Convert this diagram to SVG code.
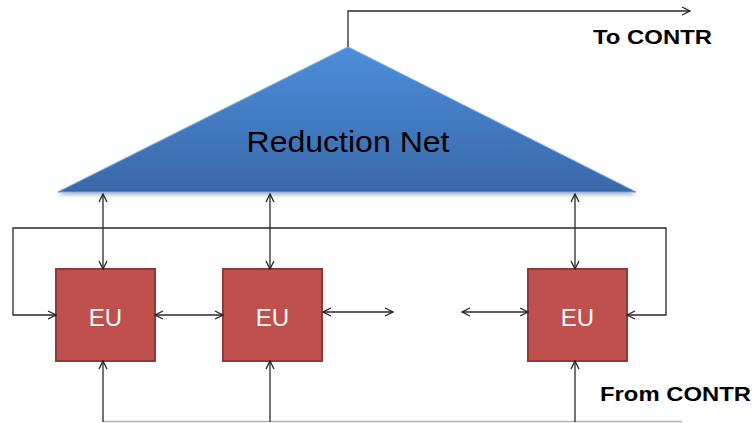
<svg xmlns="http://www.w3.org/2000/svg" width="756" height="423" viewBox="0 0 756 423">
  <defs>
    <linearGradient id="netFill" x1="0" y1="0" x2="0" y2="1">
      <stop offset="0" stop-color="#4b8edb"/>
      <stop offset="1" stop-color="#3a68a8"/>
    </linearGradient>
    <filter id="shadow" x="-10%" y="-10%" width="120%" height="130%">
      <feGaussianBlur in="SourceAlpha" stdDeviation="2"/>
      <feOffset dx="0" dy="2" result="b"/>
      <feComponentTransfer><feFuncA type="linear" slope="0.35"/></feComponentTransfer>
      <feMerge><feMergeNode/><feMergeNode in="SourceGraphic"/></feMerge>
    </filter>
    <marker id="arrow" viewBox="0 0 10 10" refX="9" refY="5" markerWidth="10" markerHeight="10" markerUnits="userSpaceOnUse" orient="auto-start-reverse">
      <path d="M1,1 L9,5 L1,9" fill="none" stroke="#222" stroke-width="1.3"/>
    </marker>
  </defs>
  <style>
    .wire { fill: none; stroke: #2a2a2a; stroke-width: 1.3; }
    .base { fill: none; stroke: #b4b4b4; stroke-width: 1.3; }
    .eu rect { fill: #c0504d; stroke: #8e3a38; stroke-width: 2; }
    .eu text { font-family: "Liberation Sans", Arial, sans-serif; font-size: 24px; fill: #ffffff; text-anchor: middle; }
    .label { font-family: "Liberation Sans", Arial, sans-serif; font-size: 20px; font-weight: bold; fill: #000; }
  </style>
  <rect width="756" height="423" fill="#ffffff"/>

  <!-- reduction network -->
  <g id="reduction-net">
    <polygon points="348,47 636,192 58,192" fill="url(#netFill)" stroke="#6aa3e6" stroke-width="1" stroke-linejoin="round" filter="url(#shadow)"/>
    <text x="348" y="152" text-anchor="middle" font-family="Liberation Sans, Arial, sans-serif" font-size="29" fill="#000" textLength="203" lengthAdjust="spacingAndGlyphs">Reduction Net</text>
  </g>

  <!-- execution units -->
  <g id="eu1" class="eu">
    <rect x="56" y="269" width="99" height="92"/>
    <text x="105.5" y="326">EU</text>
  </g>
  <g id="eu2" class="eu">
    <rect x="223" y="269" width="99" height="92"/>
    <text x="272.5" y="326">EU</text>
  </g>
  <g id="eu3" class="eu">
    <rect x="528" y="269" width="99" height="92"/>
    <text x="577.5" y="326">EU</text>
  </g>

  <!-- connectors -->
  <g id="connectors">
    <!-- output to controller -->
    <path class="wire" d="M348,47 L348,11 L690,11" marker-end="url(#arrow)"/>
    <!-- feedback ring -->
    <path class="wire" d="M56,315 L13,315 L13,228 L666,228 L666,315 L627,315" marker-start="url(#arrow)" marker-end="url(#arrow)"/>
    <!-- net to units -->
    <line class="wire" x1="103" y1="194" x2="103" y2="269" marker-start="url(#arrow)" marker-end="url(#arrow)"/>
    <line class="wire" x1="270" y1="194" x2="270" y2="269" marker-start="url(#arrow)" marker-end="url(#arrow)"/>
    <line class="wire" x1="575" y1="194" x2="575" y2="269" marker-start="url(#arrow)" marker-end="url(#arrow)"/>
    <!-- neighbour links -->
    <line class="wire" x1="155" y1="315" x2="223" y2="315" marker-start="url(#arrow)" marker-end="url(#arrow)"/>
    <line class="wire" x1="323" y1="312" x2="393" y2="312" marker-start="url(#arrow)" marker-end="url(#arrow)"/>
    <line class="wire" x1="462" y1="312" x2="528" y2="312" marker-start="url(#arrow)" marker-end="url(#arrow)"/>
    <!-- input from controller -->
    <line class="base" x1="103" y1="421.5" x2="682" y2="421.5"/>
    <line class="wire" x1="103" y1="422" x2="103" y2="361" stroke="#777" marker-end="url(#arrow)"/>
    <line class="wire" x1="270" y1="422" x2="270" y2="361" marker-end="url(#arrow)"/>
    <line class="wire" x1="575" y1="422" x2="575" y2="361" marker-end="url(#arrow)"/>
  </g>

  <text class="label" x="593" y="44" textLength="119" lengthAdjust="spacingAndGlyphs">To CONTR</text>
  <text class="label" x="600" y="401" textLength="151" lengthAdjust="spacingAndGlyphs">From CONTR</text>
</svg>
